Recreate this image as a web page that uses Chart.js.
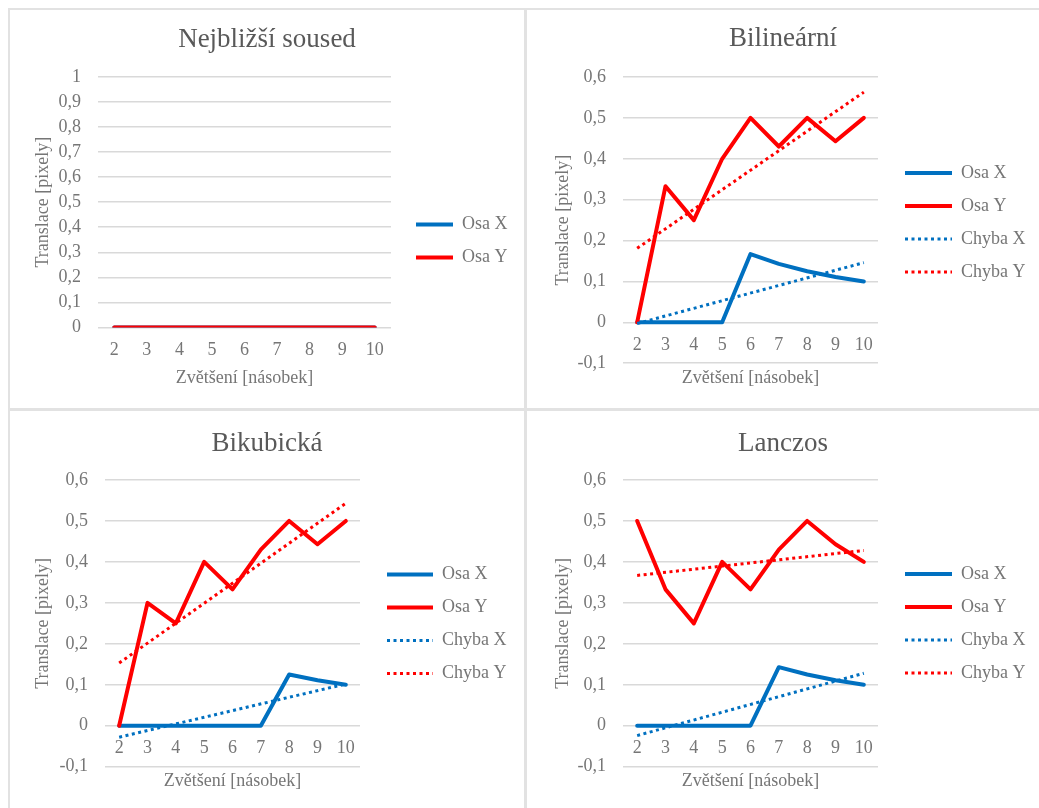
<!DOCTYPE html>
<html>
<head>
<meta charset="utf-8">
<script src="https://cdn.jsdelivr.net/npm/chart.js@4.4.1/dist/chart.umd.min.js"></script>
<style>
  html, body { margin: 0; padding: 0; background: #fff; }
  #wrap { position: relative; width: 1039px; height: 808px; overflow: hidden; background: #fff; }
  .ln { position: absolute; background: #e2e2e2; }
  canvas { position: absolute; }
</style>
</head>
<body>
<div id="wrap">
  <div class="ln" style="left:8px;top:8px;width:1031px;height:2px"></div>
  <div class="ln" style="left:8px;top:8px;width:2px;height:800px"></div>
  <div class="ln" style="left:524px;top:8px;width:3px;height:800px"></div>
  <div class="ln" style="left:8px;top:408px;width:1031px;height:3px"></div>
  <canvas id="c1" width="514" height="398" style="left:10px;top:10px"></canvas>
  <canvas id="c2" width="512" height="398" style="left:527px;top:10px"></canvas>
  <canvas id="c3" width="514" height="398" style="left:10px;top:412px"></canvas>
  <canvas id="c4" width="512" height="398" style="left:527px;top:412px"></canvas>
</div>
<script>
const magnification = ['2', '3', '4', '5', '6', '7', '8', '9', '10'];

// Nejbližší soused
const nnOsaX = [0, 0, 0, 0, 0, 0, 0, 0, 0];
const nnOsaY = [0, 0, 0, 0, 0, 0, 0, 0, 0];

// Bilineární
const bilOsaX = [0, 0, 0, 0, 0.167, 0.143, 0.125, 0.111, 0.1];
const bilOsaY = [0, 0.333, 0.25, 0.4, 0.5, 0.43, 0.5, 0.443, 0.5];
const bilChybaX = [-0.003, null, null, null, null, null, null, null, 0.146];
const bilChybaY = [0.181, null, null, null, null, null, null, null, 0.563];

// Bikubická
const bicOsaX = [0, 0, 0, 0, 0, 0, 0.125, 0.111, 0.1];
const bicOsaY = [0, 0.3, 0.25, 0.4, 0.333, 0.43, 0.5, 0.443, 0.5];
const bicChybaX = [-0.028, null, null, null, null, null, null, null, 0.102];
const bicChybaY = [0.153, null, null, null, null, null, null, null, 0.543];

// Lanczos
const lanOsaX = [0, 0, 0, 0, 0, 0.143, 0.125, 0.111, 0.1];
const lanOsaY = [0.5, 0.333, 0.25, 0.4, 0.333, 0.43, 0.5, 0.443, 0.4];
const lanChybaX = [-0.024, null, null, null, null, null, null, null, 0.128];
const lanChybaY = [0.367, null, null, null, null, null, null, null, 0.428];

const BLUE = '#0070c0';
const RED = '#ff0000';
const FONT = '"Liberation Serif", "DejaVu Serif", serif';
const TXT = '#767676';

Chart.defaults.font.family = FONT;
Chart.defaults.color = TXT;

const fmtTick = v => String(Math.round(v * 10) / 10).replace('.', ',');

function solid(label, data, color, order) {
  return { label, data, borderColor: color, backgroundColor: color, borderWidth: 4,
    pointRadius: 0, tension: 0, borderJoinStyle: 'round', borderCapStyle: 'round', order, xAxisID: 'x' };
}
function dotted(label, data, color, order) {
  return { label, data, borderColor: color, backgroundColor: color, borderWidth: 3,
    borderDash: [3, 3.5], pointRadius: 0, spanGaps: true, order, xAxisID: 'x' };
}

// point-style legend items lose the dataset dash, put it back
function legendLabels(chart) {
  return Chart.defaults.plugins.legend.labels.generateLabels(chart).map(item => {
    const ds = chart.data.datasets[item.datasetIndex];
    return Object.assign(item, {
      lineDash: ds.borderDash || [],
      lineWidth: ds.borderWidth,
      lineCap: 'butt'
    });
  });
}

function panel(id, title, datasets, o) {
  const canvas = document.getElementById(id);
  // legend box starts one label-padding before the first line sample
  const legendW = canvas.width - (o.lineStart - 15);

  // default layout caps a right legend at a fraction of the width, so widen it after fit
  const wideLegend = {
    id: 'wideLegend',
    afterInit(chart) {
      const lg = chart.legend;
      const fit = lg.fit.bind(lg);
      lg.fit = function () { fit(); this.width = legendW; };
    }
  };

  new Chart(canvas, {
    type: 'line',
    data: { labels: magnification, datasets },
    plugins: [wideLegend],
    options: {
      responsive: false, animation: false,
      layout: { padding: 0 },
      scales: {
        x: {
          type: 'category', position: { y: 0 }, offset: true,
          grid: { display: false, drawTicks: false }, border: { display: false },
          ticks: { font: { size: 18 }, color: TXT, padding: 12, maxRotation: 0, autoSkip: false }
        },
        xt: {
          type: 'category', position: 'bottom', offset: true,
          grid: { display: false, drawTicks: false }, border: { display: false },
          ticks: { display: false },
          title: { display: true, text: 'Zvětšení [násobek]', font: { size: 18 }, color: TXT,
            padding: { top: o.xtTop, bottom: o.xtBottom } }
        },
        y: {
          min: o.yMin, max: o.yMax,
          grid: { color: '#d9d9d9', lineWidth: 1.5, drawTicks: false }, border: { display: false },
          ticks: { stepSize: 0.1, font: { size: 18 }, color: TXT, padding: 17, callback: fmtTick },
          title: { display: true, text: 'Translace [pixely]', font: { size: 18 }, color: TXT,
            padding: { top: o.ytTop, bottom: 0 } },
          afterFit: s => { s.width = o.yWidth; }
        },
        gap: {
          position: 'right', display: true,
          grid: { display: false, drawTicks: false }, border: { display: false },
          ticks: { display: false },
          afterFit: s => { s.width = o.gap; }
        }
      },
      plugins: {
        title: { display: true, text: title, color: '#595959',
          font: { size: 27, weight: 'normal' }, padding: { top: o.tTop, bottom: o.tBottom } },
        legend: {
          position: 'right', align: 'center',
          title: { display: true, text: '', font: { size: 10 }, padding: { top: o.legTop, bottom: 0 } },
          labels: { usePointStyle: true, pointStyle: 'line', pointStyleWidth: o.box,
            font: { size: 18 }, color: TXT, padding: 15, generateLabels: legendLabels,
            sort: (a, b) => a.datasetIndex - b.datasetIndex }
        },
        tooltip: { enabled: false }
      }
    }
  });
}

panel('c1', 'Nejbližší soused', [
  solid('Osa X', nnOsaX, BLUE, 2),
  solid('Osa Y', nnOsaY, RED, 1)
], { yMin: 0, yMax: 1, yWidth: 88, ytTop: 22, xtTop: 40, xtBottom: 19, tTop: 14, tBottom: 20.6,
     gap: 10, lineStart: 406, box: 37, legTop: 52 });

panel('c2', 'Bilineární', [
  solid('Osa X', bilOsaX, BLUE, 4),
  solid('Osa Y', bilOsaY, RED, 3),
  dotted('Chyba X', bilChybaX, BLUE, 2),
  dotted('Chyba Y', bilChybaY, RED, 1)
], { yMin: -0.1, yMax: 0.6, yWidth: 96, ytTop: 25, xtTop: 4.2, xtBottom: 19, tTop: 12.3, tBottom: 22.3,
     gap: 12, lineStart: 378, box: 47, legTop: 15 });

panel('c3', 'Bikubická', [
  solid('Osa X', bicOsaX, BLUE, 4),
  solid('Osa Y', bicOsaY, RED, 3),
  dotted('Chyba X', bicChybaX, BLUE, 2),
  dotted('Chyba Y', bicChybaY, RED, 1)
], { yMin: -0.1, yMax: 0.6, yWidth: 95, ytTop: 22, xtTop: 4.2, xtBottom: 17.5, tTop: 16, tBottom: 19.6,
     gap: 12, lineStart: 377, box: 46, legTop: 14 });

panel('c4', 'Lanczos', [
  solid('Osa X', lanOsaX, BLUE, 4),
  solid('Osa Y', lanOsaY, RED, 3),
  dotted('Chyba X', lanChybaX, BLUE, 2),
  dotted('Chyba Y', lanChybaY, RED, 1)
], { yMin: -0.1, yMax: 0.6, yWidth: 96, ytTop: 25, xtTop: 4.2, xtBottom: 17.5, tTop: 16, tBottom: 19.6,
     gap: 12, lineStart: 378, box: 47, legTop: 13 });
</script>
</body>
</html>
